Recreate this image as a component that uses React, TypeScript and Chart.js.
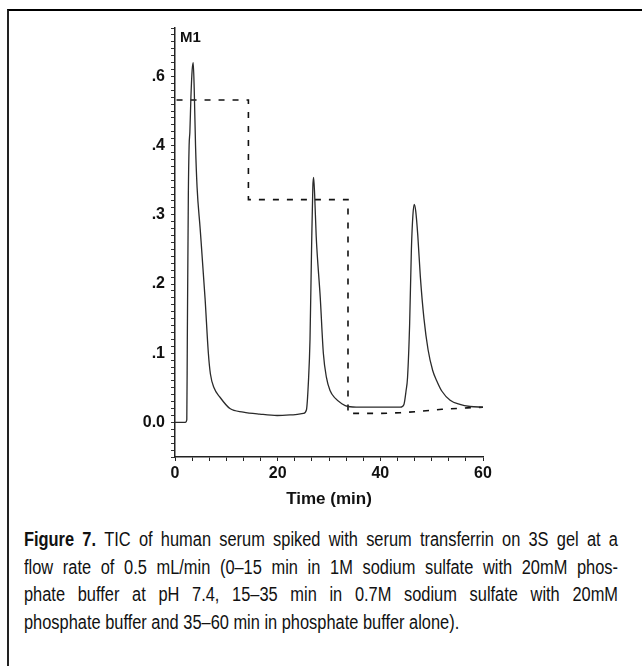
import React, { useEffect, useRef } from 'react';
import { Chart, registerables } from 'chart.js';

Chart.register(...registerables);

// Total ion chromatogram (solid line)
const TIC_TIME = [
  0, 2.0, 2.3, 2.4, 2.6, 2.75, 2.9, 3.1, 3.35, 3.55, 3.75, 4.0, 4.3, 4.9, 5.85, 6.5,
  6.9, 7.6, 8.8, 10.7, 13.3, 16.5, 19.9, 23.0, 25.0, 25.6, 26.0, 26.3, 26.6, 26.85,
  27.0, 27.2, 27.5, 28.3, 28.9, 29.5, 30.2, 31.2, 32.5, 33.7, 36.0, 40.0, 43.9, 44.6,
  45.0, 45.3, 45.7, 46.05, 46.35, 46.6, 46.9, 47.3, 47.8, 48.5, 49.3, 50.2, 51.0,
  52.0, 53.6, 55.5, 57.5, 60.0,
];
const TIC_VALUE = [
  0.0, 0.0, 0.004, 0.12, 0.33, 0.40, 0.42, 0.47, 0.51, 0.52, 0.48, 0.40, 0.34, 0.28,
  0.18, 0.10, 0.07, 0.05, 0.036, 0.02, 0.015, 0.012, 0.01, 0.011, 0.013, 0.018, 0.06,
  0.12, 0.25, 0.34, 0.354, 0.33, 0.27, 0.18, 0.10, 0.065, 0.046, 0.035, 0.027, 0.023,
  0.022, 0.022, 0.022, 0.026, 0.045, 0.065, 0.14, 0.25, 0.30, 0.315, 0.305, 0.27,
  0.21, 0.15, 0.105, 0.075, 0.06, 0.045, 0.032, 0.026, 0.023, 0.022,
];

// Gradient profile (dashed line)
const GRADIENT_TIME = [0.3, 14.3, 14.3, 33.7, 33.7, 40.0, 43.9, 47.8, 52.0, 56.9, 60.0];
const GRADIENT_VALUE = [0.466, 0.466, 0.322, 0.322, 0.013, 0.013, 0.014, 0.016, 0.019, 0.021, 0.022];

const X_TICK_VALUES = [0, 20, 40, 60];
const X_TICK_LABELS = ['0', '20', '40', '60'];
const Y_TICK_VALUES = [0, 0.1, 0.2, 0.3, 0.4, 0.5];
const Y_TICK_LABELS = ['0.0', '.1', '.2', '.3', '.4', '.6'];

const Y_MIN = -0.05;
const Y_MAX = 0.57;
const X_MIN = 0;
const X_MAX = 60;

const AXIS_FONT = '"Liberation Sans", Arial, Helvetica, sans-serif';

function labelFor(value: number, values: number[], labels: string[]) {
  for (let i = 0; i < values.length; i++) {
    if (Math.abs(values[i] - value) < 1e-6) return labels[i];
  }
  return '';
}

function ChartPanel() {
  const ref = useRef<HTMLCanvasElement | null>(null);
  useEffect(() => {
    if (!ref.current) return;
    const yMinor: number[] = [];
    for (let i = -5; i <= 57; i++) yMinor.push(i / 100);
    const xMinor: number[] = [];
    for (let i = 0; i <= 18; i++) xMinor.push((i * 10) / 3);

    const chart = new Chart(ref.current, {
      type: 'line',
      data: {
        datasets: [
          {
            label: 'TIC',
            data: TIC_TIME.map((t, i) => ({ x: t, y: TIC_VALUE[i] })),
            borderColor: '#2a2a2a',
            borderWidth: 1.3,
            pointRadius: 0,
            cubicInterpolationMode: 'monotone',
            fill: false,
          },
          {
            label: 'Gradient',
            data: GRADIENT_TIME.map((t, i) => ({ x: t, y: GRADIENT_VALUE[i] })),
            borderColor: '#111',
            borderWidth: 1.6,
            borderDash: [6, 8],
            pointRadius: 0,
            tension: 0,
            fill: false,
          },
        ],
      },
      options: {
        animation: false,
        responsive: false,
        maintainAspectRatio: false,
        events: [],
        layout: { padding: { top: 28, right: 37, bottom: 0, left: 0 } },
        plugins: { legend: { display: false }, tooltip: { enabled: false }, title: { display: false } },
        scales: {
          x: {
            type: 'linear',
            min: X_MIN,
            max: X_MAX,
            afterFit: (s: any) => {
              s.height = 53;
            },
            afterBuildTicks: (s: any) => {
              s.ticks = xMinor.map((v) => ({ value: v }));
            },
            grid: {
              drawOnChartArea: false,
              drawTicks: true,
              tickLength: 4,
              color: '#222',
              tickColor: '#222',
            },
            border: { display: true, color: '#222', width: 1.5 },
            ticks: {
              autoSkip: false,
              maxRotation: 0,
              padding: 3,
              color: '#111',
              font: { family: AXIS_FONT, size: 16, weight: 'bold' },
              callback: (v: any) => labelFor(Number(v), X_TICK_VALUES, X_TICK_LABELS),
            },
            title: {
              display: true,
              text: 'Time (min)',
              color: '#111',
              padding: { top: 0, bottom: 0 },
              font: { family: AXIS_FONT, size: 17, weight: 'bold' },
            },
          },
          y: {
            type: 'linear',
            min: Y_MIN,
            max: Y_MAX,
            afterFit: (s: any) => {
              s.width = 75;
            },
            afterBuildTicks: (s: any) => {
              s.ticks = yMinor.map((v) => ({ value: v }));
            },
            grid: {
              drawOnChartArea: false,
              drawTicks: true,
              tickLength: 4,
              color: '#333',
              tickColor: '#333',
            },
            border: { display: true, color: '#222', width: 1.5 },
            ticks: {
              autoSkip: false,
              padding: 6,
              color: '#111',
              font: { family: AXIS_FONT, size: 16, weight: 'bold' },
              callback: (v: any) => labelFor(Number(v), Y_TICK_VALUES, Y_TICK_LABELS),
            },
          },
        },
      },
    } as any);
    return () => chart.destroy();
  }, []);
  return (
    <canvas
      ref={ref}
      width={420}
      height={510}
      style={{ position: 'absolute', left: 100, top: 0, width: 420, height: 510 }}
    />
  );
}

const CAPTION_LINES = [
  'TIC of human serum spiked with serum transferrin on 3S gel at a',
  'flow rate of 0.5 mL/min (0\u201315 min in 1M sodium sulfate with 20mM phos-',
  'phate buffer at pH 7.4, 15\u201335 min in 0.7M sodium sulfate with 20mM',
  'phosphate buffer and 35\u201360 min in phosphate buffer alone).',
];

const CAPTION_SCALE = 0.82;

export default function App() {
  return (
    <div style={{ position: 'absolute', left: 0, top: 0, width: 642, height: 666, background: '#fff', overflow: 'hidden' }}>
      <div
        style={{
          position: 'absolute',
          left: 7,
          top: 9,
          width: 640,
          height: 660,
          borderTop: '2px solid #000',
          borderLeft: '2px solid #222',
        }}
      />
      <ChartPanel />
      <div
        style={{
          position: 'absolute',
          left: 180,
          top: 29,
          fontFamily: AXIS_FONT,
          fontWeight: 'bold',
          fontSize: 15,
          lineHeight: '15px',
          color: '#111',
        }}
      >
        M1
      </div>
      <div
        style={{
          position: 'absolute',
          left: 24,
          top: 526,
          width: 594 / CAPTION_SCALE,
          transform: `scaleX(${CAPTION_SCALE})`,
          transformOrigin: 'left top',
          fontFamily: AXIS_FONT,
          fontSize: 20,
          lineHeight: '27.5px',
          color: '#111',
        }}
      >
        {CAPTION_LINES.map((line, i) => (
          <div
            key={i}
            style={{
              textAlign: i < CAPTION_LINES.length - 1 ? 'justify' : 'left',
              textAlignLast: i < CAPTION_LINES.length - 1 ? 'justify' : 'left',
              whiteSpace: 'nowrap',
            }}
          >
            {i === 0 ? <b>Figure 7. </b> : null}
            {line}
          </div>
        ))}
      </div>
    </div>
  );
}
